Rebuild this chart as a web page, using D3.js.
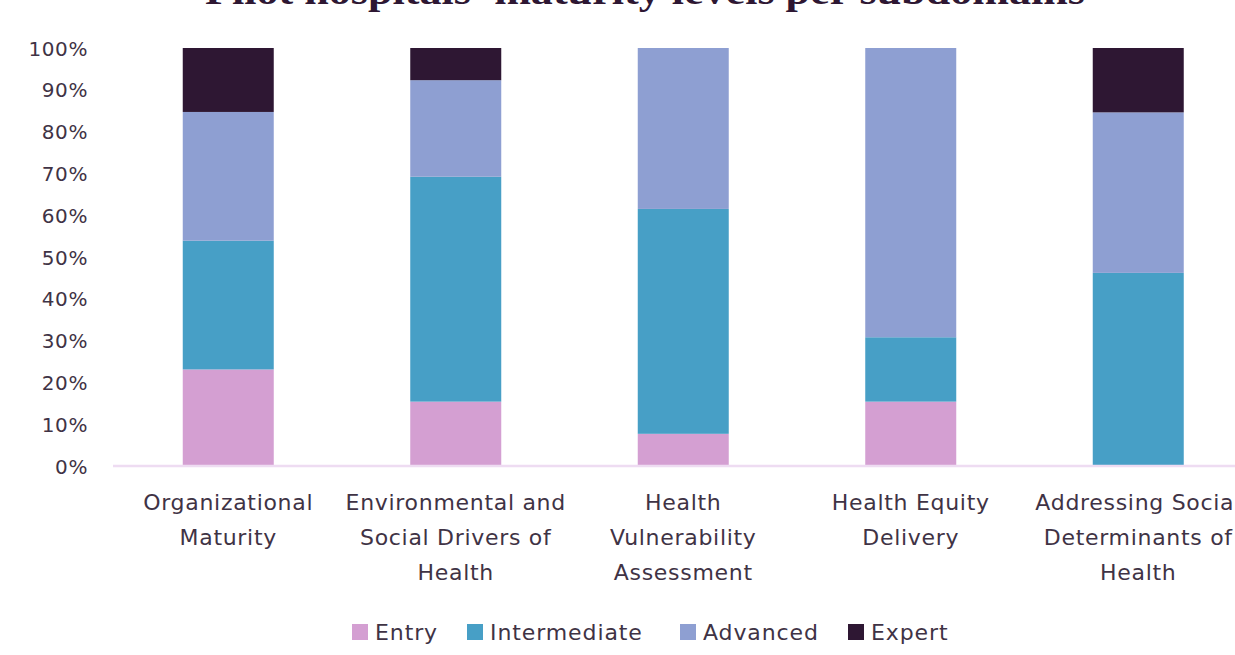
<!DOCTYPE html>
<html><head><meta charset="utf-8">
<script src="https://cdn.jsdelivr.net/npm/d3@7"></script>
<style>body{margin:0;background:#fff;overflow:hidden}svg{display:block}</style>
</head><body>
<svg id="c" width="1235" height="655"></svg>
<script>
const title = "Pilot hospitals' maturity levels per subdomains";
const categories = [
  ["Organizational", "Maturity"],
  ["Environmental and", "Social Drivers of", "Health"],
  ["Health", "Vulnerability", "Assessment"],
  ["Health Equity", "Delivery"],
  ["Addressing Social", "Determinants of", "Health"]
];
const seriesNames = ["Entry", "Intermediate", "Advanced", "Expert"];
const entry        = [23.1, 15.4, 7.7, 15.4, 0];
const intermediate = [30.8, 53.8, 53.8, 15.4, 46.2];
const advanced     = [30.8, 23.1, 38.5, 69.2, 38.4];
const expert       = [15.3, 7.7, 0, 0, 15.4];
const yTicks = [0,10,20,30,40,50,60,70,80,90,100];
const colors = ["#d49fd2", "#479fc6", "#8e9fd2", "#2e1733"];

const svg = d3.select("#c");
const textColor = "#3f3345";
const font = "'DejaVu Sans',sans-serif";

const x = d3.scaleBand().domain(d3.range(categories.length)).range([114.5, 1252]).paddingInner(0.6).paddingOuter(0.3);
const y = d3.scaleLinear().domain([0, 100]).range([466, 48]);

const rows = categories.map((c, i) => ({i, Entry: entry[i], Intermediate: intermediate[i], Advanced: advanced[i], Expert: expert[i]}));
const stack = d3.stack().keys(seriesNames)(rows);

// title (cropped at top, as in the reference)
svg.append("text").attr("x", 645).attr("y", 4).attr("text-anchor", "middle")
  .attr("font-family", "'Liberation Serif','DejaVu Serif',serif").attr("font-weight", "bold")
  .attr("font-size", 38).attr("fill", "#2e1733").attr("textLength", 880).attr("lengthAdjust", "spacingAndGlyphs")
  .text(title);

// bars
svg.append("g").selectAll("g").data(stack).join("g").attr("fill", (d, k) => colors[k])
  .selectAll("rect").data(d => d).join("rect")
  .attr("x", d => x(d.data.i)).attr("width", x.bandwidth())
  .attr("y", d => y(d[1])).attr("height", d => y(d[0]) - y(d[1]));

// baseline
svg.append("line").attr("x1", 113).attr("x2", 1235).attr("y1", 466).attr("y2", 466)
  .attr("stroke", "#eedcf2").attr("stroke-width", 2.5);

// y axis
const yAxis = d3.axisLeft(y).tickValues(yTicks).tickFormat(d => d + "%").tickSize(0).tickPadding(0);
const ga = svg.append("g").attr("transform", "translate(88,0)").call(yAxis);
ga.select(".domain").remove();
ga.selectAll("text").attr("font-family", font).attr("font-size", 20).attr("letter-spacing", 0.6)
  .attr("fill", textColor).attr("dy", "0.35em");

// x labels
const xl = svg.append("g");
categories.forEach((lines, i) => {
  const t = xl.append("text").attr("text-anchor", "middle").attr("font-family", font)
    .attr("font-size", 22).attr("letter-spacing", 0.7).attr("fill", textColor);
  lines.forEach((ln, j) => {
    t.append("tspan").attr("x", x(i) + x.bandwidth() / 2).attr("y", 510 + j * 35).text(ln);
  });
});

// legend
const legendX = [352, 467, 680, 848];
const lg = svg.append("g");
seriesNames.forEach((s, k) => {
  lg.append("rect").attr("x", legendX[k]).attr("y", 624).attr("width", 16).attr("height", 16).attr("fill", colors[k]);
  lg.append("text").attr("x", legendX[k] + 23).attr("y", 632).attr("dy", "0.35em")
    .attr("font-family", font).attr("font-size", 22).attr("letter-spacing", 0.9).attr("fill", textColor).text(s);
});
</script>
</body></html>
